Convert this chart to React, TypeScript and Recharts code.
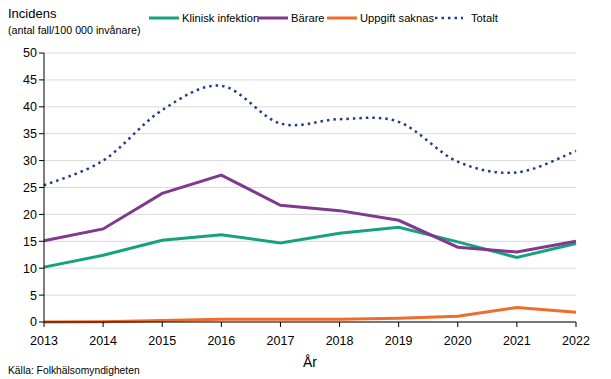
import { LineChart, Line, XAxis, YAxis, CartesianGrid } from 'recharts';

const years = ['2013', '2014', '2015', '2016', '2017', '2018', '2019', '2020', '2021', '2022'];
const klinisk = [10.2, 12.4, 15.2, 16.2, 14.7, 16.5, 17.6, 14.9, 12.0, 14.6];
const barare = [15.1, 17.3, 23.9, 27.3, 21.7, 20.7, 18.9, 13.9, 13.0, 15.0];
const uppgift = [0, 0.05, 0.3, 0.5, 0.5, 0.5, 0.7, 1.05, 2.7, 1.8];
const totalt = [25.4, 30.0, 39.4, 43.9, 36.9, 37.7, 37.2, 29.8, 27.8, 31.8];
const yTicks = [0, 5, 10, 15, 20, 25, 30, 35, 40, 45, 50];

const data = years.map((year, i) => ({
  year,
  klinisk: klinisk[i],
  barare: barare[i],
  uppgift: uppgift[i],
  totalt: totalt[i],
}));

const font = '"Liberation Sans", Arial, sans-serif';
const GREEN = '#17a27f';
const PURPLE = '#7e3b8d';
const ORANGE = '#ef6c2a';
const NAVY = '#213b8b';

// Excel-like smoothed line: cardinal spline through the points
const smoothCurve = (context: any) => {
  let pts: [number, number][] = [];
  return {
    areaStart() {},
    areaEnd() {},
    lineStart() {
      pts = [];
    },
    point(x: number, y: number) {
      pts.push([+x, +y]);
    },
    lineEnd() {
      if (!pts.length) return;
      const t = 0.5 / 3;
      context.moveTo(pts[0][0], pts[0][1]);
      for (let i = 0; i < pts.length - 1; i++) {
        const p0 = pts[Math.max(i - 1, 0)];
        const p1 = pts[i];
        const p2 = pts[i + 1];
        const p3 = pts[Math.min(i + 2, pts.length - 1)];
        context.bezierCurveTo(
          p1[0] + (p2[0] - p0[0]) * t,
          p1[1] + (p2[1] - p0[1]) * t,
          p2[0] - (p3[0] - p1[0]) * t,
          p2[1] - (p3[1] - p1[1]) * t,
          p2[0],
          p2[1]
        );
      }
    },
  };
};

const legendItems = [
  { label: 'Klinisk infektion', color: GREEN, x: 149, dotted: false },
  { label: 'Bärare', color: PURPLE, x: 258, dotted: false },
  { label: 'Uppgift saknas', color: ORANGE, x: 327, dotted: false },
  { label: 'Totalt', color: NAVY, x: 434, dotted: true },
];

const App = () => {
  return (
    <div style={{ position: 'absolute', top: 0, left: 0, width: 611, height: 379, fontFamily: font, background: '#fff' }}>
      <div style={{ position: 'absolute', left: 8, top: 6, fontSize: 13, color: '#000' }}>Incidens</div>
      <div style={{ position: 'absolute', left: 8, top: 24, fontSize: 10.7, color: '#000' }}>(antal fall/100 000 invånare)</div>

      {legendItems.map((item) => (
        <div key={item.label} style={{ position: 'absolute', left: item.x, top: 12, display: 'flex', alignItems: 'center', fontSize: 11.2 }}>
          <svg width={30} height={6} style={{ marginRight: 3 }}>
            {item.dotted ? (
              <line x1={1} y1={3} x2={29} y2={3} stroke={item.color} strokeWidth={2.5} strokeDasharray="2.5 4" />
            ) : (
              <line x1={0} y1={3} x2={30} y2={3} stroke={item.color} strokeWidth={3} />
            )}
          </svg>
          <span style={{ marginLeft: item.dotted ? 4 : 0 }}>{item.label}</span>
        </div>
      ))}

      <div style={{ position: 'absolute', top: 0, left: 0 }}>
        <LineChart width={611} height={379} data={data} margin={{ top: 53, right: 35, bottom: 27, left: 0 }}>
          <CartesianGrid vertical={false} stroke="#d9d9d9" />
          <XAxis
            dataKey="year"
            height={30}
            stroke="#000"
            tickSize={5}
            tick={{ fill: '#000', fontSize: 12.5, fontFamily: font, dy: 7 }}
            interval={0}
          />
          <YAxis
            width={44}
            domain={[0, 50]}
            ticks={yTicks}
            stroke="#000"
            tickSize={5}
            tick={{ fill: '#000', fontSize: 12.5, fontFamily: font }}
            interval={0}
          />
          <Line type="linear" dataKey="uppgift" stroke={ORANGE} strokeWidth={3} dot={false} isAnimationActive={false} />
          <Line type="linear" dataKey="klinisk" stroke={GREEN} strokeWidth={3} dot={false} isAnimationActive={false} />
          <Line type="linear" dataKey="barare" stroke={PURPLE} strokeWidth={3} dot={false} isAnimationActive={false} />
          <Line type={smoothCurve as any} dataKey="totalt" stroke={NAVY} strokeWidth={2.5} strokeDasharray="2.5 4" dot={false} isAnimationActive={false} />
        </LineChart>
      </div>

      <div style={{ position: 'absolute', left: 303, top: 354, fontSize: 14 }}>År</div>
      <div style={{ position: 'absolute', left: 8, top: 365, fontSize: 10.3 }}>Källa: Folkhälsomyndigheten</div>
    </div>
  );
};

export default App;
